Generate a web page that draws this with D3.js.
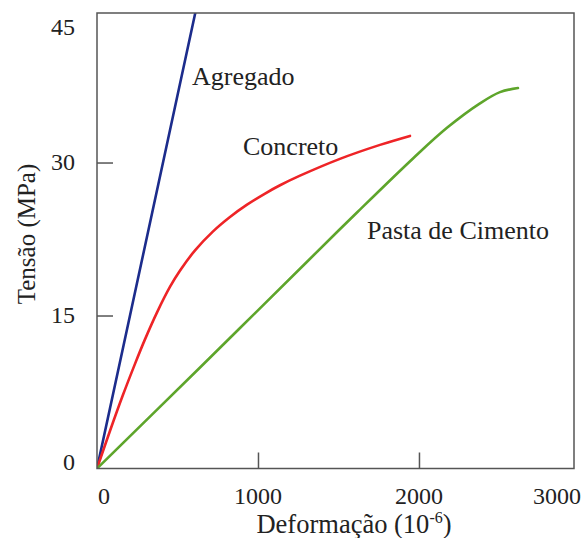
<!DOCTYPE html>
<html>
<head>
<meta charset="utf-8">
<script src="https://cdn.jsdelivr.net/npm/d3@7"></script>
<style>
    body { margin: 0; background: #fff; }
    svg { display: block; font-family: "Liberation Serif", "Times New Roman", serif; }
</style>
</head>
<body>
<svg id="chart" width="582" height="538"></svg>
<script>
// Strain in 10^-6, stress in MPa
var agregadoStrain = [0, 615];
var agregadoStress = [0, 45];

var concretoStrain = [0, 81, 161, 236, 298, 373, 453, 516, 609, 721, 826, 932, 1044, 1137, 1261, 1509, 1758, 1944];
var concretoStress = [0, 3.7, 7.2, 10.26, 12.66, 15.31, 17.8, 19.41, 21.39, 23.25, 24.66, 25.87, 26.96, 27.77, 28.71, 30.36, 31.73, 32.61];

var pastaStrain = [0, 640, 1300, 1615, 1963, 2174, 2379, 2503, 2615];
var pastaStress = [0, 9.9, 20.2, 25.1, 30.4, 33.4, 35.8, 36.9, 37.3];

var seriesNames = ['Agregado', 'Concreto', 'Pasta de Cimento'];
var seriesColors = ['#1c2c8c', '#ee2427', '#5ea52b'];
var labelStrain = [590, 907, 1677];
var labelStress = [37.6, 30.7, 22.5];

var xTicks = [0, 1000, 2000, 3000];
var yTicks = [0, 15, 30, 45];

var margin = {left: 97, top: 13, right: 8, bottom: 69.5};
var width = 582;
var height = 538;

var xScale = d3.scaleLinear().domain([0, 2963]).range([margin.left, width - margin.right]);
var yScale = d3.scaleLinear().domain([0, 44.66]).range([height - margin.bottom, margin.top]);

var svg = d3.select('#chart');

function zipSeries(xs, ys) {
    return xs.map(function(x, i) {
        return {strain: x, stress: ys[i]};
    });
}

var lineData = [
    zipSeries(agregadoStrain, agregadoStress),
    zipSeries(concretoStrain, concretoStress),
    zipSeries(pastaStrain, pastaStress)
];

var lineGenerator = d3.line()
    .x(function(d) { return xScale(d.strain); })
    .y(function(d) { return yScale(d.stress); })
    .curve(d3.curveCatmullRom.alpha(0.5));

svg.append('clipPath')
    .attr('id', 'plotClip')
    .append('rect')
    .attr('x', xScale.range()[0])
    .attr('y', yScale.range()[1])
    .attr('width', xScale.range()[1] - xScale.range()[0])
    .attr('height', yScale.range()[0] - yScale.range()[1]);

/* Curves */
svg.append('g')
    .attr('clip-path', 'url(#plotClip)')
    .selectAll('path')
    .data(lineData)
    .join('path')
    .attr('d', lineGenerator)
    .style('fill', 'none')
    .style('stroke', function(d, i) { return seriesColors[i]; })
    .style('stroke-width', 2.6)
    .style('stroke-linecap', 'round');

/* Frame and inward ticks */
svg.append('g')
    .attr('transform', 'translate(0,' + yScale(0) + ')')
    .call(d3.axisBottom(xScale).tickValues([1000, 2000]).tickSize(-16).tickFormat(''))
    .call(function(g) { g.select('.domain').remove(); })
    .selectAll('line')
    .style('stroke', '#555')
    .style('stroke-width', 1.5);

svg.append('g')
    .attr('transform', 'translate(' + xScale(0) + ',0)')
    .call(d3.axisLeft(yScale).tickValues([15, 30]).tickSize(-16).tickFormat(''))
    .call(function(g) { g.select('.domain').remove(); })
    .selectAll('line')
    .style('stroke', '#555')
    .style('stroke-width', 1.5);

svg.append('rect')
    .attr('x', xScale.range()[0])
    .attr('y', yScale.range()[1])
    .attr('width', xScale.range()[1] - xScale.range()[0])
    .attr('height', yScale.range()[0] - yScale.range()[1])
    .style('fill', 'none')
    .style('stroke', '#555')
    .style('stroke-width', 1.5);

/* Tick labels (end labels nudged inside as in the original) */
var xLabelShift = {0: 7, 3000: -23};
svg.append('g')
    .selectAll('text')
    .data(xTicks)
    .join('text')
    .attr('x', function(d) { return xScale(d) + (xLabelShift[d] || 0); })
    .attr('y', 504)
    .style('text-anchor', 'middle')
    .style('font-size', '24px')
    .style('fill', '#222')
    .text(function(d) { return d; });

var yLabelShift = {0: -6, 45: 18};
svg.append('g')
    .selectAll('text')
    .data(yTicks)
    .join('text')
    .attr('x', 75)
    .attr('y', function(d) { return yScale(d) + (yLabelShift[d] || 0); })
    .attr('dy', '0.33em')
    .style('text-anchor', 'end')
    .style('font-size', '24px')
    .style('fill', '#222')
    .text(function(d) { return d; });

/* Series labels */
svg.append('g')
    .selectAll('text')
    .data(seriesNames)
    .join('text')
    .attr('x', function(d, i) { return xScale(labelStrain[i]); })
    .attr('y', function(d, i) { return yScale(labelStress[i]); })
    .style('font-size', '26px')
    .style('fill', '#222')
    .text(function(d) { return d; });

/* Axis titles */
var xTitle = svg.append('text')
    .attr('x', 354)
    .attr('y', 533)
    .style('text-anchor', 'middle')
    .style('font-size', '26.5px')
    .style('fill', '#222');
xTitle.append('tspan').text('Deformação (10');
xTitle.append('tspan').attr('dy', -10).style('font-size', '16px').text('-6');
xTitle.append('tspan').attr('dy', 10).text(')');

svg.append('text')
    .attr('transform', 'translate(35,234) rotate(-90)')
    .style('text-anchor', 'middle')
    .style('font-size', '25px')
    .style('fill', '#222')
    .text('Tensão (MPa)');
</script>
</body>
</html>
